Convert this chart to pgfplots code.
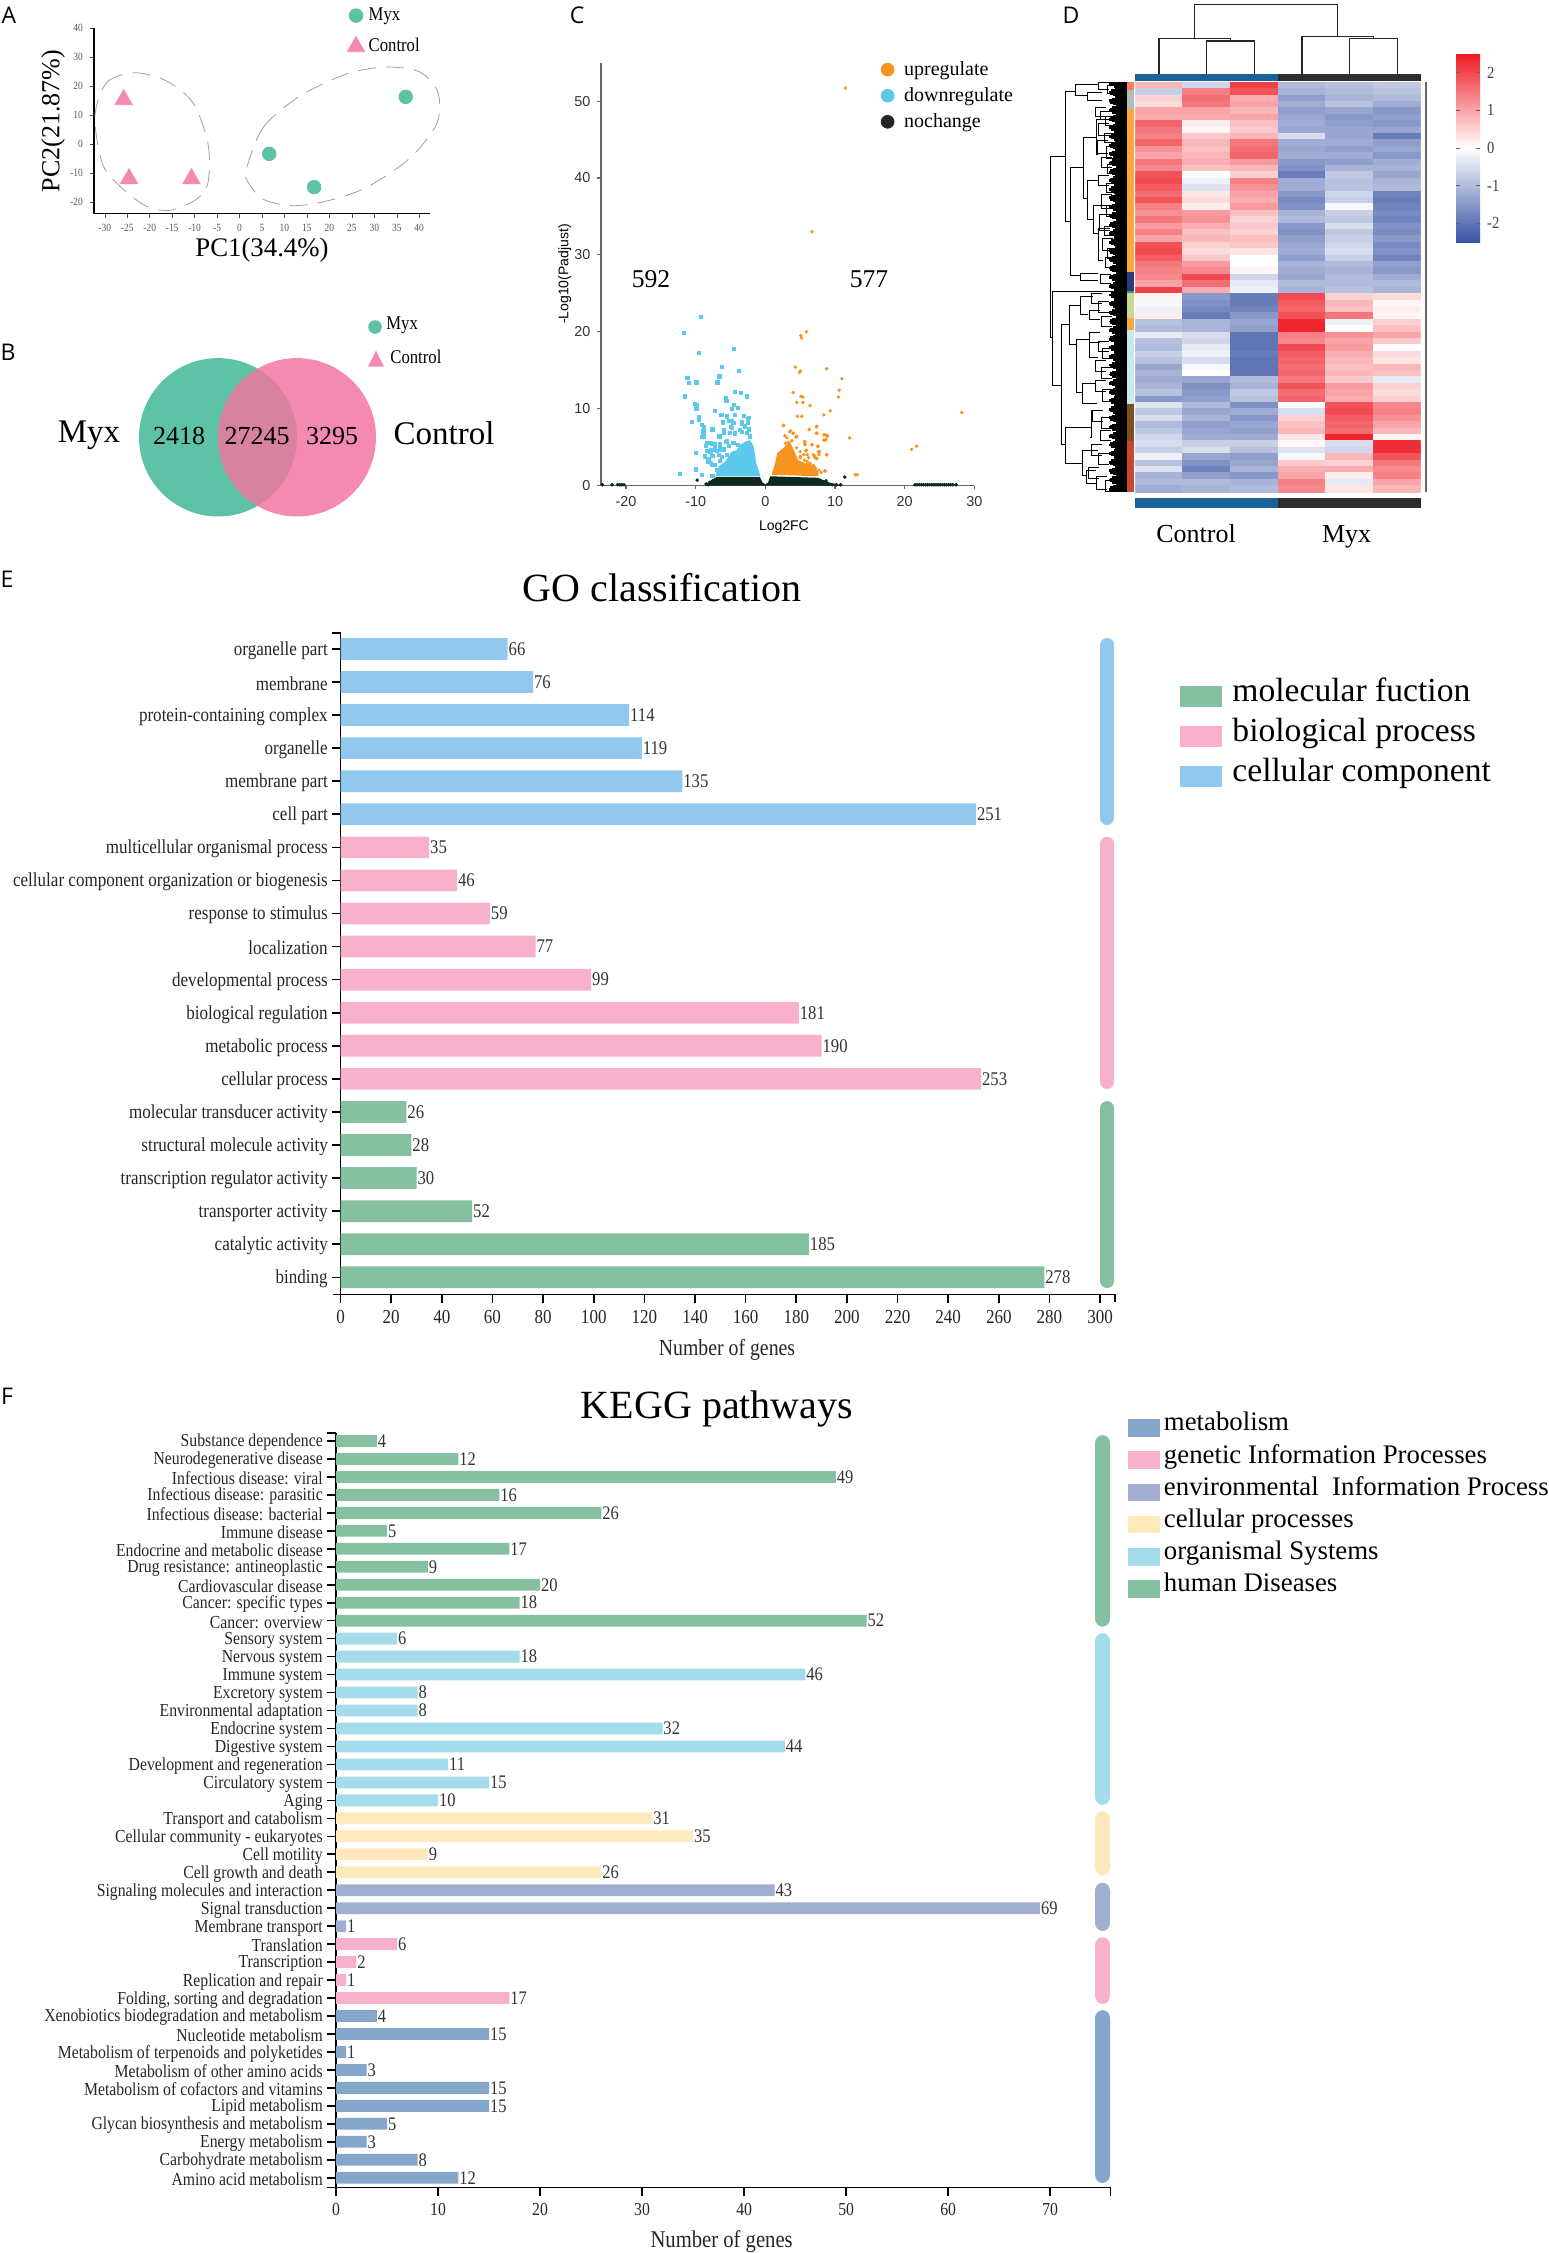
\documentclass[border=0pt]{standalone}
\usepackage{fontspec}
\usepackage{pgfplots}
\pgfplotsset{compat=1.18}
\setmainfont{Liberation Serif}
\newfontfamily\tall[FakeStretch=0.86]{Liberation Serif}
\newfontfamily\panelfont{Open Sans}
\newfontfamily\helv{Liberation Sans}
\newcommand\fs[1]{\fontsize{#1}{#1}\selectfont}

\definecolor{myx}{HTML}{5EC2A6}
\definecolor{ctrl}{HTML}{F48AB2}
\definecolor{overlapc}{HTML}{D7829F}
\definecolor{upc}{HTML}{F7931E}
\definecolor{downc}{HTML}{5BC8EC}
\definecolor{noc}{HTML}{0F2A1C}
\definecolor{gblue}{HTML}{92C8EE}
\definecolor{gpink}{HTML}{F8B1CC}
\definecolor{ggreen}{HTML}{85C0A0}
\definecolor{klblue}{HTML}{A4DCEC}
\definecolor{kyellow}{HTML}{FEE9BC}
\definecolor{kpurple}{HTML}{A2AECF}
\definecolor{ksteel}{HTML}{83A6CA}
\definecolor{colbar}{HTML}{1B6299}

\pgfplotsset{
  every axis/.append style={/pgf/number format/assume math mode=true,/pgf/number format/1000 sep={}},
  panel/.style n args={4}{at={(#1*0.5pt,-#2*0.5pt)},anchor=south west,width=#3*0.5pt,height=#4*0.5pt,scale only axis},
  swatch/.style={legend image code/.code={\fill[#1] (0pt,-6.8pt) rectangle (21pt,3.5pt);}},
  kswatch/.style={legend image code/.code={\fill[#1] (0pt,-5.9pt) rectangle (16pt,2.9pt);}},
  barpanel/.style={
    xbar,bar shift=0pt,axis x line*=bottom,axis y line*=left,axis line style={-,line width=0.8pt},
    tick align=outside,tick style={black,line width=0.8pt},clip=false,
    point meta=x,nodes near coords,
    every node near coord/.append style={anchor=west,inner sep=0.3pt,text=black!80},
    yticklabel style={xshift=1.4pt,yshift=-0.8pt},
  },
}

\begin{document}
\begin{tikzpicture}
\useasboundingbox (0,0) rectangle (774pt,-1126.5pt);

% A: PCA
\begin{axis}[panel={94}{213.5}{336}{185.3},
  xmin=-32.4,xmax=42.4,ymin=-24,ymax=40,clip=false,
  axis x line*=bottom,axis y line*=left,axis line style={-,line width=0.8pt},
  xtick={-30,-25,...,40},ytick={-20,-10,...,40},
  tick align=outside,major tick length=2pt,tick style={black!70},
  ticklabel style={font=\tall\fs{5.5},text=black!65},
  xlabel={PC1(34.4\%)},ylabel={PC2(21.87\%)},
  xlabel style={at={(axis description cs:0.5,-0.195)},anchor=center,font=\fs{13.4}},
  ylabel style={at={(axis description cs:-0.122,0.499)},anchor=center,font=\fs{13}},
  legend style={at={(0.753,1.134)},anchor=north west,draw=none,fill=none,font=\tall\fs{9.7},row sep=3.5pt,inner sep=0pt},
  legend cell align=left,
]
\addplot[only marks,mark=*,mark size=3.4pt,color=myx] coordinates {(6.6,-3.4) (16.6,-14.9) (37,16.3)};
\addlegendentry{Myx}
\addplot[only marks,mark=triangle*,mark size=5pt,color=ctrl] coordinates {(-25.8,15.3) (-24.6,-12) (-10.7,-12)};
\addlegendentry{Control}
\addplot[forget plot,smooth cycle,dashed,dash pattern=on 9pt off 5pt,gray!75,line width=0.4pt] coordinates {
 (-32.2,9.4) (-29.6,21.2) (-23.3,24.6) (-16.3,21.8) (-10.3,14.1) (-7,-0.1) (-7,-13.2)
 (-9.6,-19.1) (-15.5,-22.9) (-20.7,-21.5) (-25.9,-15.6) (-30.4,-7.3)};
\addplot[forget plot,smooth cycle,dashed,dash pattern=on 9pt off 5pt,gray!75,line width=0.4pt] coordinates {
 (1.55,-8.5) (5.3,5.8) (13.4,16.5) (23.8,24.2) (32.7,26.6) (40.2,24.8) (44.2,17.7)
 (43.9,7) (37.9,-4.9) (28.3,-15) (19.4,-19.7) (11.9,-21.3) (5.3,-19.1) (1.9,-13.2)};
\end{axis}

% C: volcano
\begin{axis}[panel={601}{485.5}{373.3}{422.8},
  xmin=-23.6,xmax=30,ymin=0,ymax=55,clip=false,
  axis x line*=bottom,axis y line*=left,axis line style={-,line width=0.8pt,black!60},
  xtick={-20,-10,...,30},ytick={0,10,...,50},
  tick align=outside,major tick length=1.8pt,tick style={black!60,line width=0.6pt},
  ticklabel style={font=\helv\fs{7.2},text=black!80},
  xlabel={Log2FC},ylabel={-Log10(Padjust)},
  xlabel style={at={(axis description cs:0.49,-0.098)},anchor=center,font=\helv\fs{7}},
  ylabel style={at={(axis description cs:-0.097,0.5)},anchor=center,font=\helv\fs{7}},
  legend style={at={(0.7485,1.014)},anchor=north west,draw=none,fill=none,font=\fs{10},row sep=0.6pt,inner sep=0pt,/tikz/column sep=2.85pt},
  legend cell align=left,
]
\addplot[only marks,mark=*,mark size=0.65pt,color=upc,
  legend image code/.code={\fill[upc] (0.3cm,0pt) circle (3.2pt);}] coordinates {
 (11.5,51.7) (6.7,33) (5.9,20) (5.1,19.5) (5.2,19.2) (4.3,15.4) (8.8,15.2) (5,14.9) (4.9,14.7) (11,13.9)
 (4,12.1) (10.6,12.4) (5.1,11.6) (5.4,11.5) (10.5,11.5) (4.5,10.8) (5.4,10.8) (6.4,10.4) (9.3,9.7) (8.4,9.2)
 (4.6,9) (5.2,9) (28.2,9.5) (2.6,7.8) (6.3,7.3) (7.3,7.6) (3.6,7.1) (4,6.8) (7.3,6.8) (8.4,6.6)
 (8.9,6.4) (2.8,6.5) (4.4,6.3) (12.1,6.2) (8.4,5.9) (8.7,6) (5.6,5.7) (5.7,5.4) (6.7,5.3) (7.5,5.1)
 (21.7,5.1) (21,4.7) (7.8,4.4) (7.7,4) (8.8,4) (5.8,4.5) (6,4) (6.9,4) (7.4,3.5) (12.9,1.4)
 (13.2,1.4) (8.5,1.9) (6.4,2.9) (6.9,2.6) (5,3.6) (5.2,2.7) (4.5,4.9) (3.8,5.8) (3.3,5.6) (2.9,5.5)
 (7.2,2.2) (7.7,2) (6,3.1) (5.6,3.3) (8,1.7) (7.1,3.6)
 (3.5,7) (4,6.8) (4.5,6.4) (2.6,7.8) (3.1,6.2) (5.7,5.7) (5.7,5.3) (6.7,5.3) (7.6,5.1) (7.6,4.4)
 (7.1,3.8) (6.2,3.6) (5.5,4) (5,4.4) (5.9,4.6) (6.4,2.7) (7.1,2.3) (8.6,1.9) (8.8,4) (8.6,5.9)
 (7.4,6.8) (6.3,7.3) (7.4,7.7) (8.6,6.6) (8.9,6.5) (5.5,2) (5.9,2.7) (4.7,2.5) (5,3.8)};
\addlegendentry{upregulate}
\addplot[forget plot,fill=upc,draw=none] coordinates {
 (0.9,1.4) (1.4,2.9) (1.7,4.2) (2.6,4.9) (3.5,5.7) (4.1,4.6) (4.7,3.3) (5.7,2.9) (6.7,2.7) (7.6,1.8) (7.6,1.2)};
\addplot[only marks,mark=square*,mark size=0.8pt,color=downc,
  legend image code/.code={\fill[downc] (0.3cm,0pt) circle (3.2pt);}] coordinates {
 (-9.2,21.9) (-11.7,19.9) (-9.5,17.3) (-4.5,17.8) (-6.2,15.4) (-6.6,14.2) (-3.8,14.9) (-11.2,14) (-11,13.3) (-9.9,13.4)
 (-6.9,13.4) (-11.5,11.6) (-4.4,12.2) (-3.5,12) (-2.7,11.6) (-5.7,11.4) (-5.6,11) (-10.1,10.6) (-9.9,10.5) (-9.9,10)
 (-4.5,10.5) (-4,10.1) (-4.8,10) (-7.3,9.7) (-6.3,9.2) (-9.5,8.9) (-9.6,8.6) (-10.5,8.3) (-5.5,9) (-4.4,9.2)
 (-3.1,9.1) (-2.5,8.7) (-6.1,8.2) (-5.2,8.4) (-4.8,8.4) (-3.4,8.3) (-2.5,8.1) (-9.1,7.9) (-8.8,7.6) (-5,7.6)
 (-3.4,8) (-2.4,7.4) (-7.6,7.3) (-8.9,7.1) (-8.8,6.7) (-9.1,6.3) (-5.9,6.9) (-4.4,6.7) (-3.6,7.2) (-6.6,6.4)
 (-5.5,5.8) (-8.1,5.5) (-7.7,5.4) (-10,4.2) (-10,2.1) (-12.3,1.5) (-9.1,1.4) (-8.5,5.1) (-7.2,5.4) (-6.5,5)
 (-4.6,5.5) (-8.4,4.5) (-7.8,4.6) (-7,4.5) (-6,4.7) (-8.7,3.7) (-8.1,3.5) (-7.6,3.8) (-6.7,4) (-5.5,4)
 (-7.8,2.9) (-7.2,2.7) (-7.6,1.3) (-6.5,3.2) (-7,2) (-6.2,3.7) (-8.3,3.1) (-5.2,5.2) (-3.9,5.3)
 (-7.9,5.5) (-8.4,5.5) (-7.4,5.4) (-7.2,5.2) (-6.5,5.4) (-5.6,5.7) (-8.7,3.8) (-7.9,4.4) (-7.2,4.6) (-6.3,4.6)
 (-8.2,3.3) (-7.7,2.7) (-4.8,4) (-4.6,8.1) (-3.4,8.3) (-2.4,8.8) (-2.4,7.2) (-2.9,7.7) (-2.7,6.8) (-2.2,6.4)
 (-3.4,7) (-4.8,7.5) (-6,7.2) (-5.1,6.8) (-4.4,6.8) (-8.9,7) (-8.9,6.4) (-10,4.2)};
\addlegendentry{downregulate}
\addplot[forget plot,fill=downc,draw=none] coordinates {
 (-7.2,1.2) (-6.7,2.5) (-5.8,3.1) (-4.8,4.4) (-4.1,4.6) (-3.6,5.3) (-2.9,5.7) (-2.2,5.9) (-1.7,5.1) (-1.3,2.9) (-0.7,1.2)};
\addplot[only marks,mark=*,mark size=0.7pt,color=noc,
  legend image code/.code={\fill[black!85] (0.3cm,0pt) circle (3.2pt);}] coordinates {
 (11.4,1.1) (-9.8,0.7) (8.7,0.6) (-23.4,0.1) (-22,0.1) (-21.2,0.1) (-20.9,0.1) (-20.6,0.1) (-20.3,0.1)
 (-8.5,0.2) (-8,0.4) (-7.6,0.6) (-7.2,0.7) (-8.2,0.1) (-7.8,0.2) (7.8,0.6) (8.1,0.4) (8.5,0.2) (9,0.2) (9.6,0.1) (10.2,0.1) (10.8,0.1)
 (21.5,0.1) (21.8,0.1) (22.1,0.1) (22.4,0.1) (22.7,0.1) (23,0.1) (23.3,0.1) (23.6,0.1) (23.9,0.1) (24.2,0.1) (24.5,0.1)
 (24.8,0.1) (25.1,0.1) (25.4,0.1) (25.7,0.1) (26,0.1) (26.3,0.1) (26.6,0.1) (26.9,0.1) (27.4,0.1)};
\addlegendentry{nochange}
\addplot[forget plot,fill=noc,draw=none] coordinates {
 (-8.6,0) (-8.6,0.1) (-7.9,0.6) (-7,1.1) (-0.8,1.1) (-0.4,0.4) (0,0.15) (0.4,0.4) (0.7,1.2) (7.6,1) (8.3,0.7) (9.5,0.3) (10.7,0.1) (10.7,0)};
\end{axis}

% D: heatmap
\begin{axis}[panel={1135.3}{492.1}{285.4}{410},
  xmin=-0.5,xmax=5.5,ymin=-0.5,ymax=63.5,y dir=reverse,
  axis line style={draw=none},xtick=\empty,ytick=\empty,
  colormap={hm}{rgb255(0cm)=(57,83,164); rgb255(1cm)=(255,255,255); rgb255(2cm)=(237,28,36)},
  point meta min=-2.5,point meta max=2.5,
  colorbar,
  colorbar style={at={(1.124,1.0695)},anchor=north west,width=12pt,height=94.3pt,
    ytick={-2,-1,0,1,2},ticklabel style={font=\tall\fs{8.5},text=black!75},
    tick style={black!60},major tick length=2pt,axis line style={draw=none},
    /pgf/number format/assume math mode=true},
]
\addplot[matrix plot*,mesh/cols=6,point meta=explicit] table[row sep=\\,header=false,
  x expr={mod(\coordindex,6)},y expr={floor((\coordindex+0.5)/6)},meta index=0] {
0.8\\-0.6\\2.1\\-1.0\\-0.9\\-0.8\\
-0.7\\1.4\\1.9\\-1.1\\-1.0\\-0.9\\
0.5\\1.6\\0.9\\-1.4\\-1.1\\-1.0\\
0.4\\1.5\\1.0\\-1.2\\-0.9\\-1.2\\
1.0\\1.0\\0.8\\-1.4\\-1.3\\-1.5\\
0.9\\0.9\\1.0\\-1.3\\-1.5\\-1.4\\
1.7\\0.2\\0.7\\-1.2\\-1.4\\-1.5\\
1.5\\0.1\\0.6\\-1.3\\-1.3\\-1.3\\
1.4\\0.6\\0.8\\-0.5\\-1.3\\-1.9\\
1.7\\0.8\\1.5\\-1.2\\-1.2\\-1.4\\
1.2\\0.7\\1.6\\-1.3\\-1.4\\-1.3\\
1.0\\0.8\\1.7\\-1.2\\-1.2\\-1.5\\
1.5\\0.9\\1.1\\-1.5\\-1.4\\-1.2\\
1.3\\0.7\\0.8\\-1.6\\-1.1\\-1.1\\
1.9\\0.0\\0.5\\-1.9\\-0.8\\-1.3\\
2.0\\-0.2\\1.4\\-1.2\\-0.9\\-1.1\\
1.8\\-0.4\\1.2\\-1.2\\-0.9\\-1.0\\
1.6\\0.3\\1.0\\-1.5\\-0.6\\-1.8\\
1.9\\0.4\\0.9\\-1.7\\-0.7\\-1.9\\
1.4\\0.2\\1.1\\-1.6\\-0.1\\-1.8\\
1.2\\1.1\\0.7\\-1.1\\-0.7\\-1.7\\
1.5\\1.2\\0.5\\-1.0\\-0.8\\-1.8\\
1.1\\0.9\\0.6\\-1.5\\-0.5\\-1.6\\
1.4\\0.7\\0.5\\-1.6\\-0.8\\-1.7\\
1.0\\0.8\\0.7\\-1.4\\-0.7\\-1.5\\
1.9\\0.5\\0.6\\-1.3\\-0.6\\-1.7\\
2.0\\0.4\\0.3\\-1.2\\-0.5\\-1.6\\
1.8\\0.6\\0.0\\-1.4\\-0.7\\-1.8\\
1.5\\1.1\\0.0\\-1.1\\-1.0\\-1.4\\
1.4\\1.3\\0.1\\-1.2\\-1.1\\-1.5\\
1.3\\2.0\\-0.6\\-1.3\\-1.0\\-1.2\\
1.0\\1.6\\-0.3\\-1.0\\-1.0\\-1.0\\
2.1\\0.9\\-0.2\\-1.1\\-0.9\\-1.1\\
0.1\\-1.5\\-1.9\\2.0\\0.5\\0.4\\
-0.1\\-1.6\\-1.9\\1.8\\0.8\\0.1\\
-0.2\\-1.7\\-1.8\\1.7\\0.7\\0.2\\
0.2\\-1.9\\-1.5\\1.9\\1.5\\0.1\\
-0.9\\-1.1\\-1.3\\2.4\\-0.2\\0.5\\
-1.0\\-1.1\\-1.4\\2.4\\0.0\\0.7\\
-0.3\\-0.5\\-2.0\\1.4\\1.2\\1.0\\
-0.9\\-0.6\\-2.0\\1.3\\1.0\\0.6\\
-1.0\\-0.3\\-2.0\\2.0\\1.1\\0.0\\
-0.7\\-0.2\\-1.9\\1.8\\0.9\\0.4\\
-0.9\\-0.5\\-2.0\\1.7\\0.8\\0.3\\
-1.3\\-0.1\\-2.0\\1.6\\0.7\\0.8\\
-1.1\\0.0\\-2.0\\1.7\\0.8\\0.7\\
-1.2\\-1.3\\-1.0\\1.5\\0.6\\-0.3\\
-1.1\\-1.6\\-1.1\\1.9\\1.1\\0.5\\
-0.9\\-1.5\\-0.8\\1.6\\1.0\\0.4\\
-1.5\\-1.4\\-0.9\\1.7\\0.9\\0.5\\
-0.4\\-1.0\\-1.6\\0.0\\1.9\\1.3\\
-0.8\\-1.3\\-1.2\\-0.5\\2.0\\1.4\\
-0.5\\-1.1\\-1.5\\0.5\\1.8\\1.2\\
-1.0\\-1.4\\-1.3\\0.7\\1.7\\1.0\\
-0.8\\-1.3\\-1.4\\0.8\\1.6\\0.8\\
-0.6\\-1.2\\-1.2\\0.3\\2.4\\0.1\\
-0.5\\-0.7\\-0.7\\0.1\\-0.5\\2.3\\
-0.7\\-0.5\\-0.9\\-0.4\\-0.6\\2.3\\
-0.2\\-1.3\\-1.4\\-0.1\\0.8\\1.9\\
-0.9\\-1.6\\-1.3\\0.6\\0.5\\1.5\\
-0.4\\-1.8\\-1.1\\0.9\\0.9\\1.3\\
-1.1\\-1.4\\-1.5\\1.0\\0.2\\1.4\\
-1.0\\-1.0\\-1.1\\1.4\\-0.3\\1.0\\
-1.2\\-1.1\\-1.0\\1.3\\0.3\\0.8\\
};
\end{axis}

% E: GO classification
\begin{axis}[panel={340.6}{1294.3}{774.4}{661.6},barpanel,
  xmin=0,xmax=305.9,ymin=-0.514,ymax=19.49,bar width=10.85pt,
  xtick={0,20,...,300},ytick={0,...,19},major tick length=4.3pt,
  yticklabels={binding,catalytic activity,transporter activity,transcription regulator activity,structural molecule activity,molecular transducer activity,
    cellular process,metabolic process,biological regulation,developmental process,localization,response to stimulus,cellular component organization or biogenesis,multicellular organismal process,
    cell part,membrane part,organelle,protein-containing complex,membrane,organelle part},
  ticklabel style={font=\tall\fs{9.9},text=black!85},
  every node near coord/.append style={font=\tall\fs{9.7}},
  xlabel={Number of genes},
  xlabel style={at={(axis description cs:0.499,-0.0842)},anchor=center,font=\tall\fs{11.5},text=black!85},
  legend style={at={(1.084,0.933)},anchor=north west,draw=none,fill=none,font=\fs{16.8},row sep=4pt,inner sep=0pt,
    nodes={inner sep=0pt,text height=12pt,text depth=4pt},/tikz/column sep=5pt},
  legend cell align=left,
]
\addplot[fill=ggreen,draw=none,swatch=ggreen] coordinates {(278,0) (185,1) (52,2) (30,3) (28,4) (26,5)};
\addlegendentry{molecular fuction}
\addplot[fill=gpink,draw=none,swatch=gpink] coordinates {(253,6) (190,7) (181,8) (99,9) (77,10) (59,11) (46,12) (35,13)};
\addlegendentry{biological process}
\addplot[fill=gblue,draw=none,swatch=gblue] coordinates {(251,14) (135,15) (119,16) (114,17) (76,18) (66,19)};
\addlegendentry{cellular component}
\end{axis}

% F: KEGG pathways
\begin{axis}[panel={336}{2187.3}{774.4}{754.6},barpanel,
  xmin=0,xmax=75.9,ymin=-0.534,ymax=41.46,bar width=5.9pt,
  xtick={0,10,...,70},ytick={0,...,41},major tick length=4.5pt,
  yticklabels={Amino acid metabolism,Carbohydrate metabolism,Energy metabolism,Glycan biosynthesis and metabolism,Lipid metabolism,Metabolism of cofactors and vitamins,Metabolism of other amino acids,Metabolism of terpenoids and polyketides,Nucleotide metabolism,Xenobiotics biodegradation and metabolism,
    {Folding, sorting and degradation},Replication and repair,Transcription,Translation,
    Membrane transport,Signal transduction,Signaling molecules and interaction,
    Cell growth and death,Cell motility,Cellular community - eukaryotes,Transport and catabolism,
    Aging,Circulatory system,Development and regeneration,Digestive system,Endocrine system,Environmental adaptation,Excretory system,Immune system,Nervous system,Sensory system,
    Cancer: overview,Cancer: specific types,Cardiovascular disease,Drug resistance: antineoplastic,Endocrine and metabolic disease,Immune disease,Infectious disease: bacterial,Infectious disease: parasitic,Infectious disease: viral,Neurodegenerative disease,Substance dependence},
  ticklabel style={font=\tall\fs{9.15},text=black!85},
  every node near coord/.append style={font=\tall\fs{9.6}},
  xlabel={Number of genes},
  xlabel style={at={(axis description cs:0.498,-0.0722)},anchor=center,font=\tall\fs{12},text=black!85},
  legend style={at={(1.0227,1.028)},anchor=north west,draw=none,fill=none,font=\fs{13.4},row sep=3.1pt,inner sep=0pt,
    nodes={inner sep=0pt,text height=9.5pt,text depth=3.5pt},/tikz/column sep=1.8pt},
  legend cell align=left,
]
\addplot[fill=ksteel,draw=none,kswatch=ksteel] coordinates {(12,0) (8,1) (3,2) (5,3) (15,4) (15,5) (3,6) (1,7) (15,8) (4,9)};
\addlegendentry{metabolism}
\addplot[fill=gpink,draw=none,kswatch=gpink] coordinates {(17,10) (1,11) (2,12) (6,13)};
\addlegendentry{genetic Information Processes}
\addplot[fill=kpurple,draw=none,kswatch=kpurple] coordinates {(1,14) (69,15) (43,16)};
\addlegendentry{environmental~ Information Process}
\addplot[fill=kyellow,draw=none,kswatch=kyellow] coordinates {(26,17) (9,18) (35,19) (31,20)};
\addlegendentry{cellular processes}
\addplot[fill=klblue,draw=none,kswatch=klblue] coordinates {(10,21) (15,22) (11,23) (44,24) (32,25) (8,26) (8,27) (46,28) (18,29) (6,30)};
\addlegendentry{organismal Systems}
\addplot[fill=ggreen,draw=none,kswatch=ggreen] coordinates {(52,31) (18,32) (20,33) (9,34) (17,35) (5,36) (26,37) (16,38) (49,39) (12,40) (4,41)};
\addlegendentry{human Diseases}
\end{axis}

% everything else, in pixels of the reference
\begin{scope}[x=0.5pt,y=-0.5pt]
  \node[font=\panelfont\fs{11.5}] at (9,15.5) {A};
  \node[font=\panelfont\fs{11.5}] at (8,352) {B};
  \node[font=\panelfont\fs{11.5}] at (577,15.5) {C};
  \node[font=\panelfont\fs{11.5}] at (1071,15) {D};
  \node[font=\panelfont\fs{11.5}] at (7,579) {E};
  \node[font=\panelfont\fs{11.5}] at (7,1396) {F};

  % B: venn
  \fill[myx] (218,437.3) ellipse [x radius=79,y radius=79.2];
  \fill[ctrl] (297,437.3) ellipse [x radius=79,y radius=79.2];
  \begin{scope}
    \clip (218,437.3) ellipse [x radius=79,y radius=79.2];
    \fill[overlapc] (297,437.3) ellipse [x radius=79,y radius=79.2];
  \end{scope}
  \node[font=\fs{13}] at (179,435.6) {2418};
  \node[font=\fs{13}] at (257,435.6) {27245};
  \node[font=\fs{13}] at (332,435.6) {3295};
  \node[font=\fs{16.5}] at (89,435.5) {Myx};
  \node[font=\fs{16.5}] at (444,433) {Control};
  \fill[myx] (375,327) circle (6.8);
  \fill[ctrl] (376,350.5) -- (384,366.7) -- (368,366.7) -- cycle;
  \node[font=\tall\fs{9.7},anchor=west,inner sep=0pt] at (386,325.4) {Myx};
  \node[font=\tall\fs{9.7},anchor=west,inner sep=0pt] at (390,356.4) {Control};

  % C: counts
  \node[font=\fs{12.8}] at (651,279) {592};
  \node[font=\fs{12.8}] at (869,279) {577};

  % E and F: group bars, axis ends
  \foreach \c/\a/\b in {gblue/638/825,gpink/836.7/1089,ggreen/1101/1288}
    \fill[\c,rounded corners=3.5] (1100,\a) rectangle (1114,\b);
  \foreach \c/\a/\b in {ggreen/1435/1626.7,klblue/1633/1805,kyellow/1811/1875.6,kpurple/1882.6/1931,gpink/1937/2004,ksteel/2010/2183}
    \fill[\c,rounded corners=4] (1095,\a) rectangle (1110,\b);
  \draw[line width=0.8pt] (332,632.7) -- (340.6,632.7);
  \draw[line width=0.8pt] (333,1294.3) -- (340.6,1294.3);
  \draw[line width=0.8pt] (1115,1294.3) -- (1115,1302);
  \draw[line width=0.8pt] (327,1432.7) -- (336,1432.7);
  \draw[line width=0.8pt] (327,2187.3) -- (336,2187.3);
  \draw[line width=0.8pt] (1110.4,2187.3) -- (1110.4,2196);

  \node[font=\fs{20},anchor=base] at (662,601.7) {GO classification};
  \node[font=\fs{20},anchor=base] at (717,1418) {KEGG pathways};

  % D: same units as the crop, origin at x=1030
  \begin{scope}[shift={(1030,0)},x=0.16667pt,y=-0.17857pt]
    \node[font=\fs{13},anchor=base] at (498,1520) {Control};
    \node[font=\fs{13},anchor=base] at (950,1520) {Myx};
    \fill[colbar] (316,208) rectangle (745,227);
    \fill[black!82] (745,208) rectangle (1172,227);
    \fill[colbar] (316,1393) rectangle (745,1422);
    \fill[black!82] (745,1393) rectangle (1172,1422);
    \fill[black!60] (1185,230) rectangle (1190,1378);
    \draw[line width=0.6pt,black!85] (387,208) -- (387,107) -- (601,107) -- (601,115);
    \draw[line width=0.6pt,black!85] (530,208) -- (530,115) -- (673,115) -- (673,208);
    \draw[line width=0.6pt,black!85] (493,107) -- (493,12) -- (922,12) -- (922,102);
    \draw[line width=0.6pt,black!85] (816,208) -- (816,102) -- (1030,102) -- (1030,107);
    \draw[line width=0.6pt,black!85] (958,208) -- (958,107) -- (1102,107) -- (1102,208);
    \foreach \c/\a/\b in {F47F5A/230/252,B0BDB8/252/305,F9A640/305/762,2E3A78/762/815,1FA08A/815/820,
        CDD693/820/890,F9A640/890/925,C9E9EA/925/1132,7B4F21/1132/1235,C8452F/1235/1378}{
      \definecolor{rowc}{HTML}{\c}
      \fill[rowc] (290,\a) rectangle (312,\b);
    }
    \foreach \x/\a/\p/\b/\q in {62/438/105/945/68,105/255/135/620/122,135/237/205/268/172,172/258/215/282/215,
        122/470/160/772/150,160/385/200/555/172,200/335/213/432/203,172/505/205/615/190,190/575/228/655/205,205/640/240/730/218,
        150/765/205/785/205,68/815/285/1078/95,95/908/118/1245/105,118/855/152/965/140,152/830/190/880/175,
        140/950/178/1100/158,178/930/205/1000/205,158/1075/195/1130/200,105/1197/185/1297/158,185/1150/215/1225/180,
        158/1262/205/1330/168,168/1318/198/1355/198}
      \draw[line width=0.45pt] (\p,\a) -- (\x,\a) -- (\x,\b) -- (\q,\b);
    \foreach \x/\a/\b in {212/312/335,225/325/350,205/345/380,222/375/400,203/392/430,230/410/445,215/440/470,232/460/485,
        205/490/520,228/515/540,215/545/585,228/575/605,208/600/645,222/635/660,218/668/700,232/695/725,225/720/750,210/768/795,
        185/822/850,205/845/875,178/870/895,215/885/915,178/930/960,205/955/985,218/975/1005,195/1010/1040,215/1030/1060,
        195/1065/1095,218/1090/1125,188/1150/1180,215/1170/1200,210/1205/1232,185/1245/1275,205/1270/1300,175/1310/1340,
        200/1335/1370,225/1345/1375,205/232/250,232/240/262,195/300/325}
      \draw[line width=0.45pt] (\x+32,\a) -- (\x,\a) -- (\x,\b) -- (\x+32,\b);
    % leaves of the row tree, drawn as a dense comb
    \foreach \y in {232,236,...,1376}
      \draw[line width=0.7pt,black] ({258-22*abs(sin(\y*7.3))},\y) -- (290,\y);
  \end{scope}
\end{scope}
\end{tikzpicture}
\end{document}
